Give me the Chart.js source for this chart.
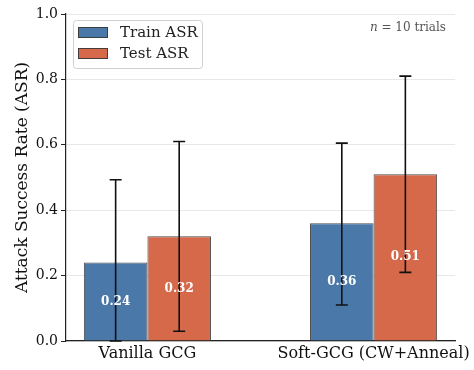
<!DOCTYPE html>
<html>
<head>
<meta charset="utf-8">
<script src="https://cdn.jsdelivr.net/npm/chart.js@4.4.1/dist/chart.umd.min.js"></script>
<style>
  html, body { margin: 0; padding: 0; background: #fff; }
  #wrap { width: 474px; height: 370px; }
</style>
</head>
<body>
<div id="wrap"><canvas id="c" width="474" height="370"></canvas></div>
<script>
const CATEGORIES = ["Vanilla GCG", "Soft-GCG (CW+Anneal)"];
const SERIES = ["Train ASR", "Test ASR"];
const TRAIN_ASR = [0.24, 0.36];
const TEST_ASR = [0.32, 0.51];
const TRAIN_LOW = [0.0, 0.11];
const TRAIN_HIGH = [0.493, 0.605];
const TEST_LOW = [0.03, 0.21];
const TEST_HIGH = [0.61, 0.81];
const Y_TICKS = [0, 0.2, 0.4, 0.6, 0.8, 1.0];

const COLORS = { train: "#4a78a8", test: "#d5694a", edge: "rgba(55,55,55,0.9)" };
const SERIF = "'DejaVu Serif', serif";

function points(vals) {
  return vals.map((v, i) => ({ x: i, y: v }));
}

// error bars, value labels, legend box, annotation
const extras = {
  id: "extras",
  afterDatasetsDraw(chart) {
    const { ctx, scales: { y } } = chart;
    const errs = [[TRAIN_LOW, TRAIN_HIGH], [TEST_LOW, TEST_HIGH]];
    const vals = [TRAIN_ASR, TEST_ASR];
    chart.data.datasets.forEach((ds, di) => {
      const meta = chart.getDatasetMeta(di);
      meta.data.forEach((bar, i) => {
        const top = y.getPixelForValue(errs[di][1][i]);
        const bot = y.getPixelForValue(errs[di][0][i]);
        ctx.save();
        ctx.strokeStyle = "#111";
        ctx.lineWidth = 1.6;
        ctx.beginPath();
        ctx.moveTo(bar.x, top); ctx.lineTo(bar.x, bot);
        ctx.moveTo(bar.x - 6, top); ctx.lineTo(bar.x + 6, top);
        ctx.moveTo(bar.x - 6, bot); ctx.lineTo(bar.x + 6, bot);
        ctx.stroke();

        // value label in middle of the bar
        ctx.fillStyle = "#fff";
        ctx.font = "bold 12px " + SERIF;
        ctx.textAlign = "center";
        ctx.textBaseline = "middle";
        ctx.fillText(vals[di][i].toFixed(2), bar.x, (bar.y + bar.base) / 2);
        ctx.restore();
      });
    });
  },
  afterDraw(chart) {
    const { ctx, chartArea } = chart;
    // legend
    const lx = chartArea.left + 7, ly = chartArea.top + 6;
    ctx.save();
    ctx.fillStyle = "rgba(255,255,255,0.85)";
    ctx.strokeStyle = "#d0d0d0";
    ctx.lineWidth = 1;
    ctx.beginPath();
    ctx.roundRect(lx + 0.5, ly + 0.5, 129, 48, 3);
    ctx.fill();
    ctx.stroke();
    chart.data.datasets.forEach((ds, i) => {
      const sy = ly + 7 + i * 21;
      ctx.fillStyle = ds.backgroundColor;
      ctx.fillRect(lx + 5, sy, 30, 11);
      ctx.strokeStyle = COLORS.edge;
      ctx.strokeRect(lx + 5.5, sy + 0.5, 29, 10);
      ctx.fillStyle = "#222";
      ctx.font = "15px " + SERIF;
      ctx.textBaseline = "middle";
      ctx.fillText(ds.label, lx + 47, sy + 6);
    });
    // annotation
    ctx.fillStyle = "#555";
    ctx.textBaseline = "middle";
    ctx.textAlign = "right";
    ctx.font = "12px " + SERIF;
    const rest = " = 10 trials";
    const ax = chartArea.right - 9, ay = chartArea.top + 14;
    ctx.fillText(rest, ax, ay);
    const w = ctx.measureText(rest).width;
    ctx.font = "italic 12px " + SERIF;
    ctx.fillText("n", ax - w, ay);
    ctx.restore();
  }
};

new Chart(document.getElementById("c"), {
  type: "bar",
  data: {
    datasets: [
      { label: SERIES[0], data: points(TRAIN_ASR), backgroundColor: COLORS.train,
        borderColor: COLORS.edge, borderWidth: 1 },
      { label: SERIES[1], data: points(TEST_ASR), backgroundColor: COLORS.test,
        borderColor: COLORS.edge, borderWidth: 1 },
    ],
  },
  options: {
    responsive: false,
    animation: false,
    layout: { padding: { top: 14, right: 19, left: 12, bottom: 0 } },
    categoryPercentage: 0.562,
    barPercentage: 1.0,
    plugins: { legend: { display: false }, tooltip: { enabled: false } },
    scales: {
      x: {
        type: "linear",
        min: -0.36,
        max: 1.36,
        offset: false,
        afterBuildTicks: (s) => { s.ticks = [{ value: 0 }, { value: 1 }]; },
        afterFit: (s) => { s.height = 29; s.paddingLeft = 0; s.paddingRight = 0; },
        grid: { display: false, drawTicks: false },
        border: { display: true, color: "#222", width: 1.2 },
        ticks: {
          color: "#111",
          font: { family: SERIF, size: 16 },
          padding: 3,
          autoSkip: false,
          maxRotation: 0,
          callback: (v) => CATEGORIES[v],
        },
      },
      y: {
        min: 0,
        max: 1,
        afterBuildTicks: (s) => { s.ticks = Y_TICKS.map((v) => ({ value: v })); },
        afterFit: (s) => { s.width = 54; },
        grid: { color: "#e8e8e8", borderDash: [3, 3], tickColor: "#222", tickLength: 5, tickBorderDash: [] },
        border: { display: true, color: "#222", width: 1.2 },
        ticks: {
          color: "#111",
          font: { family: SERIF, size: 14 },
          padding: 3,
          callback: (v) => v.toFixed(1),
        },
        title: {
          display: true,
          text: "Attack Success Rate (ASR)",
          color: "#111",
          font: { family: SERIF, size: 17 },
          padding: { top: 0, bottom: 2 },
        },
      },
    },
  },
  plugins: [extras],
});
</script>
</body>
</html>
